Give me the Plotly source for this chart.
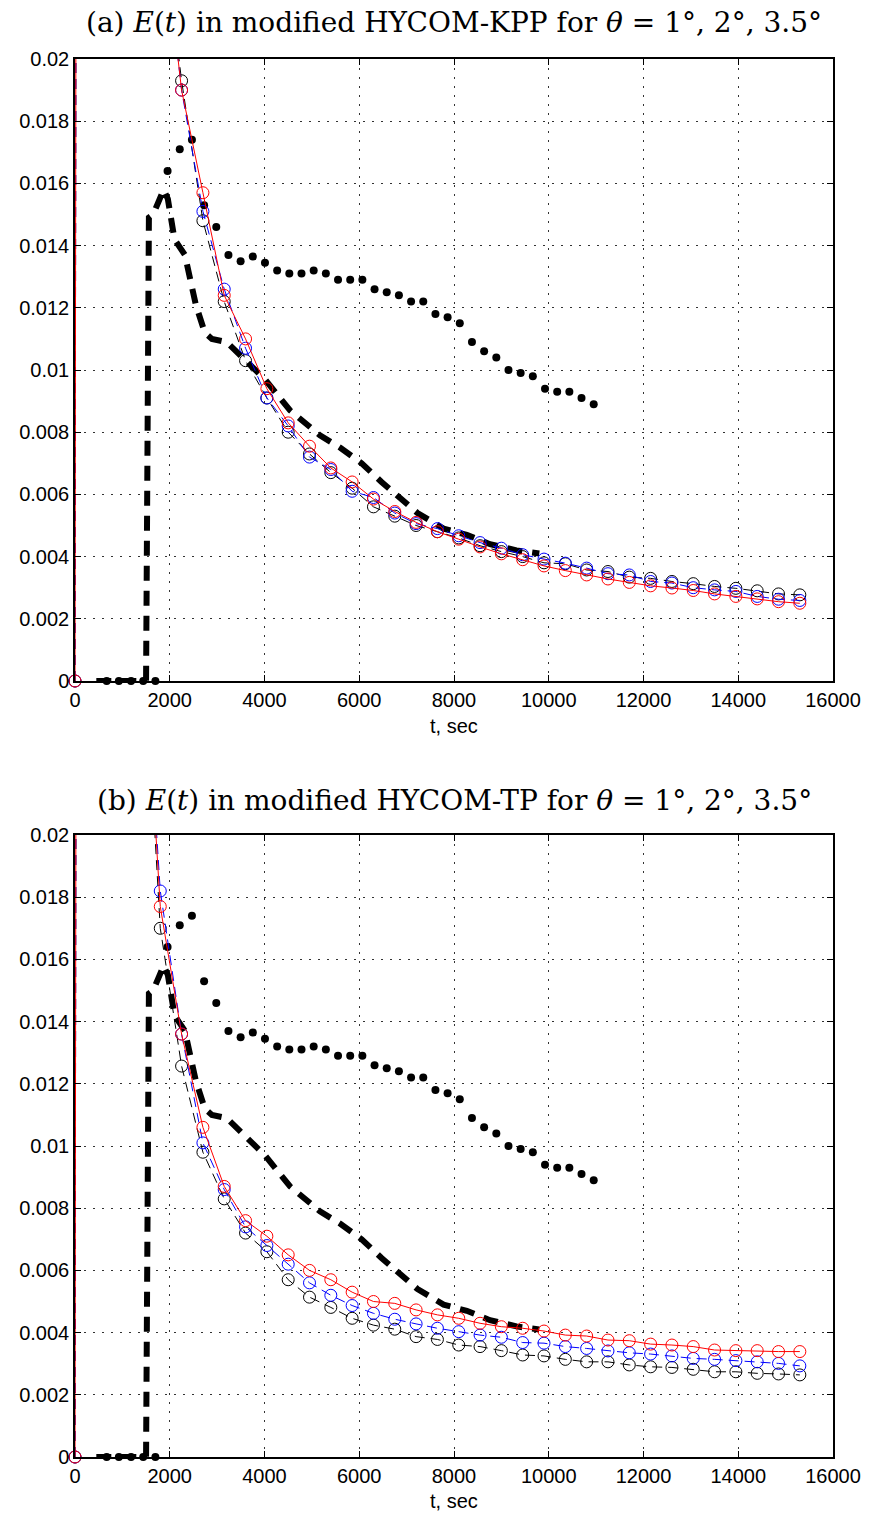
import plotly.graph_objects as go

# ---------------- data ----------------
t_model = [0, 450, 900, 1350, 1800, 2250, 2700, 3150, 3600, 4050, 4500, 4950, 5400, 5850,
           6300, 6750, 7200, 7650, 8100, 8550, 9000, 9450, 9900, 10350, 10800, 11250,
           11700, 12150, 12600, 13050, 13500, 13950, 14400, 14850, 15300]

# panel (a) HYCOM-KPP
kpp_black = [0, 0.5, 0.15, 0.06, 0.025, 0.0193, 0.0148, 0.0122, 0.0103, 0.0091, 0.0080, 0.0073,
             0.0067, 0.0062, 0.0056, 0.0053, 0.0050, 0.0048, 0.0046, 0.00435, 0.00416, 0.0040,
             0.0038, 0.00377, 0.00357, 0.00352, 0.00334, 0.0033, 0.0032, 0.00313, 0.00304,
             0.00298, 0.0029, 0.0028, 0.00277]
kpp_blue = [0, 0.5, 0.15, 0.06, 0.025, 0.0190, 0.0151, 0.0126, 0.0107, 0.0091, 0.0082, 0.0072,
            0.0068, 0.0061, 0.0059, 0.0054, 0.00506, 0.0049, 0.00467, 0.00445, 0.00427, 0.00406,
            0.00392, 0.00379, 0.00363, 0.00345, 0.00341, 0.0032, 0.00315, 0.0030, 0.00293,
            0.00288, 0.00272, 0.00263, 0.00259]
kpp_red = [0, 0.5, 0.15, 0.06, 0.025, 0.0190, 0.0157, 0.0124, 0.0110, 0.0094, 0.0083, 0.00755,
           0.00685, 0.0064, 0.00585, 0.00545, 0.0051, 0.0048, 0.00456, 0.00431, 0.00409, 0.0039,
           0.0037, 0.00355, 0.00341, 0.00328, 0.00317, 0.00306, 0.00299, 0.00291, 0.0028,
           0.00272, 0.00264, 0.00255, 0.0025]

# panel (b) HYCOM-TP
tp_black = [0, 0.5, 0.15, 0.029, 0.0170, 0.01257, 0.0098, 0.0083, 0.0072, 0.0066, 0.0057, 0.00514,
            0.00481, 0.00446, 0.00424, 0.00411, 0.00387, 0.00378, 0.0036, 0.00355, 0.00342,
            0.00328, 0.00325, 0.00314, 0.00306, 0.00306, 0.00296, 0.0029, 0.00288, 0.00282,
            0.00274, 0.00274, 0.00269, 0.00267, 0.00264]
tp_blue = [0, 0.5, 0.15, 0.029, 0.0182, 0.0136, 0.0101, 0.0086, 0.0074, 0.0068, 0.0062, 0.0056,
           0.0052, 0.00487, 0.00462, 0.00443, 0.00428, 0.00414, 0.00403, 0.00392, 0.00385,
           0.00368, 0.00366, 0.00355, 0.00349, 0.00341, 0.00335, 0.00331, 0.00325, 0.00317,
           0.00314, 0.0031, 0.00306, 0.00301, 0.00293]
tp_red = [0, 0.5, 0.15, 0.029, 0.0177, 0.0136, 0.0106, 0.0087, 0.0076, 0.0071, 0.0065, 0.0060,
          0.0057, 0.0053, 0.0050, 0.00494, 0.00473, 0.00457, 0.00446, 0.0043, 0.00419, 0.00414,
          0.00405, 0.00392, 0.00389, 0.00376, 0.00374, 0.00363, 0.0036, 0.00355, 0.00344,
          0.00342, 0.00342, 0.00339, 0.00339]

# laboratory data (same in both panels)
t_dots = [669, 926, 1183, 1440, 1697, 1954, 2211, 2468, 2725, 2982, 3239, 3496, 3753, 4010,
          4267, 4524, 4781, 5038, 5295, 5552, 5809, 6066, 6323, 6580, 6837, 7094, 7351, 7608,
          7865, 8122, 8379, 8636, 8893, 9150, 9407, 9664, 9921, 10178, 10435, 10692, 10949]
e_dots = [0, 0, 0, 0, 0, 0.0164, 0.0171, 0.0174, 0.0153, 0.0146, 0.0137, 0.0135, 0.01365,
          0.01345, 0.0132, 0.0131, 0.0131, 0.0132, 0.0131, 0.0129, 0.0129, 0.0129, 0.0126,
          0.0125, 0.0124, 0.0122, 0.0122, 0.0118, 0.0117, 0.0115, 0.0109, 0.0106, 0.0104,
          0.0100, 0.0099, 0.0098, 0.0094, 0.0093, 0.0093, 0.0091, 0.0089]

t_dash = [450, 1500, 1560, 1650, 1760, 1870, 1960, 2010, 2100, 2320, 2430, 2550, 2740, 2890,
          3200, 3340, 3620, 4010, 4540, 5170, 5600, 6050, 6470, 6860, 7230, 7780, 8270, 8760,
          9320, 9800]
e_dash = [0, 0, 0.0149, 0.0150, 0.0154, 0.0158, 0.0155, 0.0150, 0.0142, 0.0137, 0.0129,
          0.0121, 0.0112, 0.0110, 0.0109, 0.0107, 0.0103, 0.0097, 0.0087, 0.0079, 0.0075,
          0.0070, 0.0064, 0.0059, 0.0054, 0.0049, 0.0047, 0.0044, 0.0042, 0.0041]

x_ticks = [0, 2000, 4000, 6000, 8000, 10000, 12000, 14000, 16000]
x_ticktext = ["0", "2000", "4000", "6000", "8000", "10000", "12000", "14000", "16000"]
y_ticks = [0, 0.002, 0.004, 0.006, 0.008, 0.01, 0.012, 0.014, 0.016, 0.018, 0.02]
y_ticktext = ["0", "0.002", "0.004", "0.006", "0.008", "0.01", "0.012", "0.014", "0.016",
              "0.018", "0.02"]

titles = ["(a) <i>E</i>(<i>t</i>) in modified HYCOM-KPP for <i>θ</i> = 1°, 2°, 3.5°",
          "(b) <i>E</i>(<i>t</i>) in modified HYCOM-TP for <i>θ</i> = 1°, 2°, 3.5°"]

# ---------------- figure ----------------
W, H = 870, 1516
fig = go.Figure()

panels = [("x", "y", kpp_black, kpp_blue, kpp_red), ("x2", "y2", tp_black, tp_blue, tp_red)]
YMAX = 0.02

for xa, ya, blk, blu, red in panels:
    # lab data
    fig.add_trace(go.Scatter(x=t_dots, y=e_dots, mode="markers", xaxis=xa, yaxis=ya,
                             marker=dict(color="black", size=8), cliponaxis=False,
                             showlegend=False, hoverinfo="skip"))
    fig.add_trace(go.Scatter(x=t_dash, y=e_dash, mode="lines", xaxis=xa, yaxis=ya,
                             line=dict(color="black", width=6, dash="15px,10px"),
                             showlegend=False, hoverinfo="skip"))
    for vals, col, dsh in [(blk, "black", "10px,6px"), (blu, "blue", "10px,6px"),
                           (red, "red", "solid")]:
        fig.add_trace(go.Scatter(x=t_model, y=vals, mode="lines", xaxis=xa, yaxis=ya,
                                 line=dict(color=col, width=1, dash=dsh),
                                 showlegend=False, hoverinfo="skip"))
        mx = [t for t, v in zip(t_model, vals) if v <= YMAX]
        my = [v for v in vals if v <= YMAX]
        fig.add_trace(go.Scatter(x=mx, y=my, mode="markers", xaxis=xa, yaxis=ya,
                                 marker=dict(symbol="circle-open", color=col, size=12,
                                             line=dict(width=1, color=col)),
                                 cliponaxis=False, showlegend=False, hoverinfo="skip"))

xdom = [75 / W, 833 / W]
dom_a = [1 - 681 / H, 1 - 59 / H]
dom_b = [1 - 1457 / H, 1 - 835 / H]

tickfont = dict(family="Liberation Sans, Arial, sans-serif", size=20, color="black")
axis_common = dict(showline=True, linecolor="black", linewidth=1.5, mirror="ticks",
                   ticks="inside", ticklen=6, tickcolor="black", tickwidth=1,
                   showgrid=True, gridcolor="#333", gridwidth=1, griddash="2px,7px",
                   zeroline=False, tickfont=tickfont, automargin=False)

fig.update_layout(
    width=W, height=H, margin=dict(l=0, r=0, t=0, b=0),
    paper_bgcolor="white", plot_bgcolor="white",
    xaxis=dict(domain=xdom, range=[0, 16000], tickvals=x_ticks, ticktext=x_ticktext,
               anchor="y", **axis_common),
    yaxis=dict(domain=dom_a, range=[0, 0.02], tickvals=y_ticks, ticktext=y_ticktext,
               anchor="x", **axis_common),
    xaxis2=dict(domain=xdom, range=[0, 16000], tickvals=x_ticks, ticktext=x_ticktext,
                anchor="y2", **axis_common),
    yaxis2=dict(domain=dom_b, range=[0, 0.02], tickvals=y_ticks, ticktext=y_ticktext,
                anchor="x2", **axis_common),
)

title_font = dict(family="DejaVu Serif, serif", size=28, color="black")
label_font = dict(family="Liberation Sans, Arial, sans-serif", size=20, color="black")
xc = (xdom[0] + xdom[1]) / 2
fig.add_annotation(text=titles[0], x=xc, y=1 - 22 / H, xref="paper", yref="paper",
                   showarrow=False, font=title_font, xanchor="center", yanchor="middle")
fig.add_annotation(text=titles[1], x=xc, y=1 - 800 / H, xref="paper", yref="paper",
                   showarrow=False, font=title_font, xanchor="center", yanchor="middle")
fig.add_annotation(text="t, sec", x=xc, y=1 - 726 / H, xref="paper", yref="paper",
                   showarrow=False, font=label_font, xanchor="center", yanchor="middle")
fig.add_annotation(text="t, sec", x=xc, y=1 - 1501 / H, xref="paper", yref="paper",
                   showarrow=False, font=label_font, xanchor="center", yanchor="middle")

fig.write_html("out.html")
